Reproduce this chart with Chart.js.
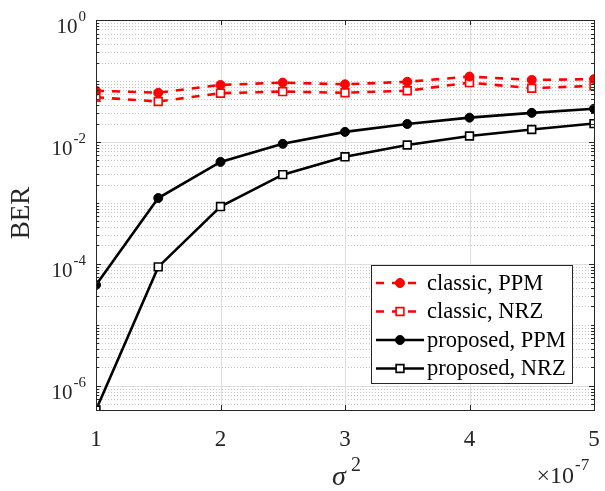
<!DOCTYPE html>
<html>
<head>
<meta charset="utf-8">
<script src="https://cdn.jsdelivr.net/npm/chart.js@4.4.1/dist/chart.umd.min.js"></script>
<style>
  html, body { margin: 0; padding: 0; background: #fff; }
  #wrap { width: 605px; height: 491px; position: relative; }
</style>
</head>
<body>
<div id="wrap"><canvas id="c"></canvas></div>
<script>
// sigma^2 (x 1e-7)
const sigma2 = [1, 1.5, 2, 2.5, 3, 3.5, 4, 4.5, 5];
const classicPPM = [0.069, 0.064, 0.086, 0.094, 0.088, 0.097, 0.118, 0.104, 0.107];
const classicNRZ = [0.054, 0.046, 0.063, 0.067, 0.064, 0.069, 0.094, 0.076, 0.083];
const proposedPPM = [4.5e-5, 1.2e-3, 4.7e-3, 9.3e-3, 1.46e-2, 1.97e-2, 2.5e-2, 3.0e-2, 3.5e-2];
const proposedNRZ = [4e-7, 8.9e-5, 8.7e-4, 2.9e-3, 5.7e-3, 8.9e-3, 1.25e-2, 1.6e-2, 2.0e-2];
const seriesNames = ['classic, PPM', 'classic, NRZ', 'proposed, PPM', 'proposed, NRZ'];
const xTicks = [1, 2, 3, 4, 5];
const yTickExp = [0, -2, -4, -6];

const SERIF = '"Liberation Serif", "Times New Roman", serif';
const TXT = '#262626';

function pts(ys) {
  return sigma2.map((x, i) => ({ x: x, y: ys[i] }));
}

const matlabAxes = {
  id: 'matlabAxes',
  beforeDatasetsDraw(chart) {
    const { ctx, chartArea: a, scales: { x, y } } = chart;
    ctx.save();
    ctx.lineWidth = 1;
    // minor dotted horizontal grid
    ctx.strokeStyle = '#c4c4c4';
    ctx.setLineDash([1, 2]);
    for (let e = -7; e <= 0; e++) {
      for (let k = 1; k <= 9; k++) {
        const v = k * Math.pow(10, e);
        if (v < y.min || v > y.max) continue;
        if (k === 1 && yTickExp.includes(e)) continue;
        const py = Math.round(y.getPixelForValue(v)) + 0.5;
        ctx.beginPath(); ctx.moveTo(a.left, py); ctx.lineTo(a.right, py); ctx.stroke();
      }
    }
    // major grid
    ctx.setLineDash([]);
    ctx.strokeStyle = '#dedede';
    yTickExp.forEach(e => {
      const py = Math.round(y.getPixelForValue(Math.pow(10, e))) + 0.5;
      ctx.beginPath(); ctx.moveTo(a.left, py); ctx.lineTo(a.right, py); ctx.stroke();
    });
    xTicks.forEach(v => {
      const px = Math.round(x.getPixelForValue(v)) + 0.5;
      ctx.beginPath(); ctx.moveTo(px, a.top); ctx.lineTo(px, a.bottom); ctx.stroke();
    });
    ctx.restore();
  },
  afterDatasetsDraw(chart) {
    const { ctx, chartArea: a, scales: { x, y } } = chart;
    ctx.save();
    // box
    ctx.strokeStyle = TXT;
    ctx.lineWidth = 1;
    ctx.strokeRect(Math.round(a.left) + 0.5, Math.round(a.top) + 0.5,
      Math.round(a.right - a.left), Math.round(a.bottom - a.top));
    // x ticks (inward, bottom and top)
    xTicks.forEach(v => {
      const px = Math.round(x.getPixelForValue(v)) + 0.5;
      ctx.beginPath();
      ctx.moveTo(px, a.bottom); ctx.lineTo(px, a.bottom - 5);
      ctx.moveTo(px, a.top); ctx.lineTo(px, a.top + 5);
      ctx.stroke();
    });
    // y ticks, major and minor
    for (let e = -7; e <= 0; e++) {
      for (let k = 1; k <= 9; k++) {
        const v = k * Math.pow(10, e);
        if (v < y.min || v > y.max) continue;
        const major = k === 1 && yTickExp.includes(e);
        const len = major ? 5 : 3;
        const py = Math.round(y.getPixelForValue(v)) + 0.5;
        ctx.beginPath();
        ctx.moveTo(a.left, py); ctx.lineTo(a.left + len, py);
        ctx.moveTo(a.right, py); ctx.lineTo(a.right - len, py);
        ctx.stroke();
      }
    }
    // y tick labels 10^e
    ctx.fillStyle = TXT;
    yTickExp.forEach(e => {
      const py = y.getPixelForValue(Math.pow(10, e));
      const exp = String(e);
      ctx.font = '15px ' + SERIF;
      const ew = ctx.measureText(exp).width;
      const ex = a.left - 10 - ew;
      ctx.textAlign = 'left';
      ctx.textBaseline = 'alphabetic';
      ctx.fillText(exp, ex, py + 1);
      ctx.font = '21px ' + SERIF;
      ctx.textAlign = 'right';
      ctx.fillText('10', ex - 1, py + 13);
    });
    // y title
    ctx.save();
    ctx.translate(22, 213);
    ctx.rotate(-Math.PI / 2);
    ctx.font = '27px ' + SERIF;
    ctx.textAlign = 'center';
    ctx.textBaseline = 'middle';
    ctx.fillText('BER', 0, 0);
    ctx.restore();
    // x title sigma^2
    ctx.font = 'italic 28px ' + SERIF;
    ctx.textAlign = 'left';
    ctx.textBaseline = 'alphabetic';
    ctx.fillText('σ', 332, 485);
    ctx.font = '20px ' + SERIF;
    ctx.fillText('2', 351, 471);
    // exponent multiplier x10^-7
    ctx.font = '17px ' + SERIF;
    ctx.fillText('-7', 575, 470);
    ctx.font = '24px ' + SERIF;
    ctx.textAlign = 'right';
    ctx.fillText('×10', 574, 483);

    // legend
    const lx = 371, ly = 265, lw = 201, lh = 118;
    ctx.fillStyle = '#fff';
    ctx.fillRect(lx, ly, lw, lh);
    ctx.strokeStyle = TXT;
    ctx.lineWidth = 1;
    ctx.strokeRect(lx + 0.5, ly + 0.5, lw, lh);
    chart.data.datasets.forEach((ds, i) => {
      const ry = ly + 18 + i * 28.5;
      ctx.strokeStyle = ds.borderColor;
      ctx.lineWidth = ds.borderWidth;
      ctx.setLineDash(ds.borderDash || []);
      ctx.beginPath(); ctx.moveTo(376, ry); ctx.lineTo(424, ry); ctx.stroke();
      ctx.setLineDash([]);
      ctx.fillStyle = ds.pointBackgroundColor;
      ctx.strokeStyle = ds.borderColor;
      ctx.lineWidth = ds.pointBorderWidth;
      ctx.beginPath();
      if (ds.pointStyle === 'circle') {
        ctx.arc(400, ry, ds.pointRadius, 0, Math.PI * 2);
      } else {
        const s = ds.pointRadius / Math.SQRT2;
        ctx.rect(400 - s, ry - s, 2 * s, 2 * s);
      }
      ctx.fill(); ctx.stroke();
      ctx.fillStyle = '#000';
      ctx.font = '22.5px ' + SERIF;
      ctx.textAlign = 'left';
      ctx.textBaseline = 'middle';
      ctx.fillText(seriesNames[i], 427, ry + 1);
    });
    ctx.restore();
  }
};

function ds(label, data, color, dashed, style) {
  const sq = style === 'rect';
  return {
    label: label,
    data: pts(data),
    borderColor: color,
    borderWidth: 2.6,
    borderDash: dashed ? [8, 8] : [],
    pointStyle: style,
    pointRadius: sq ? 5.5 : 4.5,
    pointBorderWidth: sq ? 1.6 : 1,
    pointBackgroundColor: sq ? '#fff' : color,
    pointBorderColor: color,
    fill: false,
    tension: 0
  };
}

new Chart(document.getElementById('c'), {
  type: 'line',
  data: {
    datasets: [
      ds(seriesNames[0], classicPPM, '#ff0000', true, 'circle'),
      ds(seriesNames[1], classicNRZ, '#ff0000', true, 'rect'),
      ds(seriesNames[2], proposedPPM, '#000000', false, 'circle'),
      ds(seriesNames[3], proposedNRZ, '#000000', false, 'rect')
    ]
  },
  options: {
    responsive: true,
    maintainAspectRatio: false,
    animation: false,
    devicePixelRatio: 1,
    layout: { padding: { left: 0, top: 20, right: 11, bottom: 0 } },
    plugins: { legend: { display: false }, tooltip: { enabled: false } },
    scales: {
      x: {
        type: 'linear', min: 1, max: 5,
        afterBuildTicks: s => { s.ticks = xTicks.map(v => ({ value: v })); },
        afterFit: s => { s.height = 81; s.paddingLeft = 0; s.paddingRight = 0; },
        grid: { display: false },
        border: { display: false },
        ticks: {
          color: TXT, padding: 8, maxRotation: 0,
          font: { family: SERIF, size: 23 },
          callback: v => String(v)
        }
      },
      y: {
        type: 'logarithmic', min: 4e-7, max: 1,
        afterFit: s => { s.width = 96; s.paddingTop = 0; s.paddingBottom = 0; },
        grid: { display: false },
        border: { display: false },
        ticks: { display: false }
      }
    }
  },
  plugins: [matlabAxes]
});
</script>
</body>
</html>
